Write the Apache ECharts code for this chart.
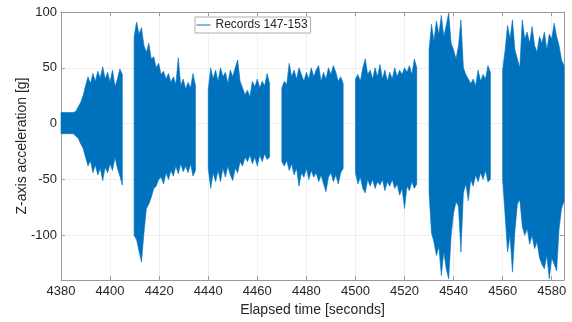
<!DOCTYPE html>
<html>
<head>
<meta charset="utf-8">
<script src="https://cdn.jsdelivr.net/npm/echarts@6/dist/echarts.min.js"></script>
<style>
  html, body { margin: 0; padding: 0; background: #fff; }
  #chart { width: 572px; height: 322px; }
</style>
</head>
<body>
<div id="chart"></div>
<script>
// one block per record, peak up / peak down read once a second
const records = ['147', '148', '149', '150', '151', '152', '153']
const recordStart = [4380, 4409.8, 4440, 4470, 4500, 4530, 4560]

const up147 = [10, 10, 10, 10, 10, 10, 11, 15, 19, 25, 34, 42, 36, 45, 38, 47, 41, 51, 40, 46, 37, 48, 33, 40, 49, 44]
const lo147 = [-9, -9, -9, -9, -9, -9, -11, -13, -18, -22, -30, -38, -33, -44, -37, -46, -40, -51, -39, -44, -36, -42, -30, -40, -47, -55]
const up148 = [78, 91, 80, 86, 70, 64, 72, 58, 60, 50, 54, 44, 47, 40, 45, 37, 42, 35, 59, 34, 40, 31, 37, 32, 45, 34]
const lo148 = [-100, -104, -114, -124, -98, -76, -72, -66, -58, -56, -50, -48, -54, -44, -50, -42, -47, -38, -45, -36, -43, -38, -44, -36, -47, -42]
const up149 = [30, 50, 40, 48, 38, 50, 42, 46, 36, 48, 42, 50, 57, 38, 32, 26, 30, 24, 38, 33, 40, 32, 38, 34, 45, 36]
const lo149 = [-40, -58, -44, -52, -42, -52, -40, -48, -38, -46, -51, -40, -44, -34, -38, -30, -34, -28, -36, -30, -38, -28, -34, -27, -32, -30]
const up150 = [32, 38, 35, 54, 42, 48, 40, 50, 44, 38, 46, 40, 50, 42, 48, 52, 38, 46, 40, 50, 44, 52, 46, 38, 42, 36]
const lo150 = [-34, -38, -33, -42, -36, -46, -40, -56, -44, -48, -40, -50, -42, -48, -44, -52, -46, -54, -61, -48, -44, -52, -46, -54, -44, -40]
const up151 = [40, 44, 38, 50, 58, 44, 48, 40, 50, 42, 53, 40, 48, 38, 46, 40, 50, 42, 48, 44, 50, 46, 52, 44, 58, 50]
const lo151 = [-44, -54, -48, -58, -62, -50, -56, -50, -58, -52, -55, -50, -60, -52, -56, -50, -58, -54, -64, -58, -76, -56, -60, -52, -58, -54]
const up152 = [66, 89, 74, 92, 80, 97, 78, 88, 99, 72, 66, 58, 70, 93, 50, 44, 40, 36, 40, 34, 48, 38, 44, 40, 52, 46]
const lo152 = [-62, -98, -106, -118, -110, -136, -115, -130, -139, -100, -80, -70, -74, -115, -62, -54, -69, -50, -56, -46, -52, -44, -50, -42, -52, -50]
const up153 = [48, 66, 88, 76, 93, 66, 58, 50, 93, 76, 82, 72, 87, 70, 64, 78, 72, 82, 66, 80, 76, 90, 78, 70, 57, 52]
const lo153 = [-50, -82, -115, -100, -133, -96, -72, -68, -92, -100, -94, -108, -100, -112, -106, -120, -126, -130, -118, -139, -120, -126, -132, -94, -76, -70]

const upper = [up147, up148, up149, up150, up151, up152, up153]
const lower = [lo147, lo148, lo149, lo150, lo151, lo152, lo153]

const xTicks = [4400, 4420, 4440, 4460, 4480, 4500, 4520, 4540, 4560, 4580]
const yTicks = [-100, -50, 0, 50, 100]

const blue = '#0072BD'
const font = "'Liberation Sans', Arial, Helvetica, sans-serif"
const chart = echarts.init(document.getElementById('chart'), null, { renderer: 'canvas' })

function renderRecord(params, api) {
  const k = params.dataIndex
  const t0 = recordStart[k]
  const pts = []
  for (let i = 0; i < upper[k].length; i++) pts.push(api.coord([t0 + i, upper[k][i]]))
  for (let i = lower[k].length - 1; i >= 0; i--) pts.push(api.coord([t0 + i, lower[k][i]]))
  return {
    type: 'polygon',
    shape: { points: pts },
    style: { fill: blue, stroke: blue, lineWidth: 0.6 },
  }
}

const axisGray = '#9a9a9a'
const labelStyle = { color: '#262626', fontSize: 13, fontFamily: font }

chart.setOption({
  animation: false,
  color: [blue],
  textStyle: { fontFamily: font },
  grid: { left: 61, right: 8, top: 12, bottom: 41 },
  legend: {
    left: 195,
    top: 17,
    data: ['Records 147-153'],
    itemWidth: 14,
    itemHeight: 2,
    itemGap: 0,
    padding: [2, 3, 2, 1],
    backgroundColor: '#fff',
    borderColor: '#b0b0b0',
    borderWidth: 1,
    borderRadius: 0,
    itemStyle: { opacity: 0 },
    lineStyle: { width: 1 },
    textStyle: { color: '#262626', fontSize: 12, fontFamily: font },
  },
  xAxis: [
    {
      type: 'value', position: 'bottom', min: 4380, max: 4585, interval: 20,
      name: 'Elapsed time [seconds]', nameLocation: 'middle', nameGap: 23, nameMoveOverlap: false,
      nameTextStyle: { color: '#262626', fontSize: 14, fontFamily: font },
      axisLine: { show: true, onZero: false, lineStyle: { color: axisGray } },
      axisTick: { inside: true, length: 4, lineStyle: { color: axisGray } },
      axisLabel: { ...labelStyle, margin: 5, showMaxLabel: false, formatter: v => String(v) },
      splitLine: { show: true, lineStyle: { color: '#e2e2e2' } },
    },
    {
      type: 'value', position: 'top', min: 4380, max: 4585, interval: 10,
      axisLine: { show: true, onZero: false, lineStyle: { color: axisGray } },
      axisTick: { show: true, inside: true, length: 4, customValues: xTicks, lineStyle: { color: axisGray } },
      axisLabel: { show: false },
      splitLine: { show: true, lineStyle: { color: '#f0f0f0' } },
    },
  ],
  yAxis: [
    {
      type: 'value', position: 'left', min: -140, max: 100, splitNumber: 5,
      name: 'Z-axis acceleration [g]', nameLocation: 'middle', nameGap: 32, nameMoveOverlap: false,
      nameTextStyle: { color: '#262626', fontSize: 14, fontFamily: font },
      axisLine: { show: true, onZero: false, lineStyle: { color: axisGray } },
      axisTick: { inside: true, length: 4, lineStyle: { color: axisGray } },
      axisLabel: { ...labelStyle, margin: 4, showMinLabel: false },
      splitLine: { show: true, lineStyle: { color: '#e2e2e2' } },
    },
    {
      type: 'value', position: 'right', min: -140, max: 100, interval: 10,
      axisLine: { show: true, onZero: false, lineStyle: { color: axisGray } },
      axisTick: { show: true, inside: true, length: 4, customValues: yTicks, lineStyle: { color: axisGray } },
      axisLabel: { show: false },
      splitLine: { show: true, lineStyle: { color: '#f0f0f0' } },
    },
  ],
  series: [
    {
      // legend entry only: MATLAB-style line sample
      name: 'Records 147-153',
      type: 'line',
      data: [],
      symbol: 'none',
      lineStyle: { color: blue, width: 1 },
      itemStyle: { color: blue },
    },
    {
      name: 'records',
      type: 'custom',
      xAxisIndex: 0,
      yAxisIndex: 0,
      itemStyle: { color: blue },
      renderItem: renderRecord,
      encode: { x: 0, y: 1 },
      data: records.map((r, k) => [recordStart[k], 0, k]),
      z: 3,
    },
  ],
})
</script>
</body>
</html>
